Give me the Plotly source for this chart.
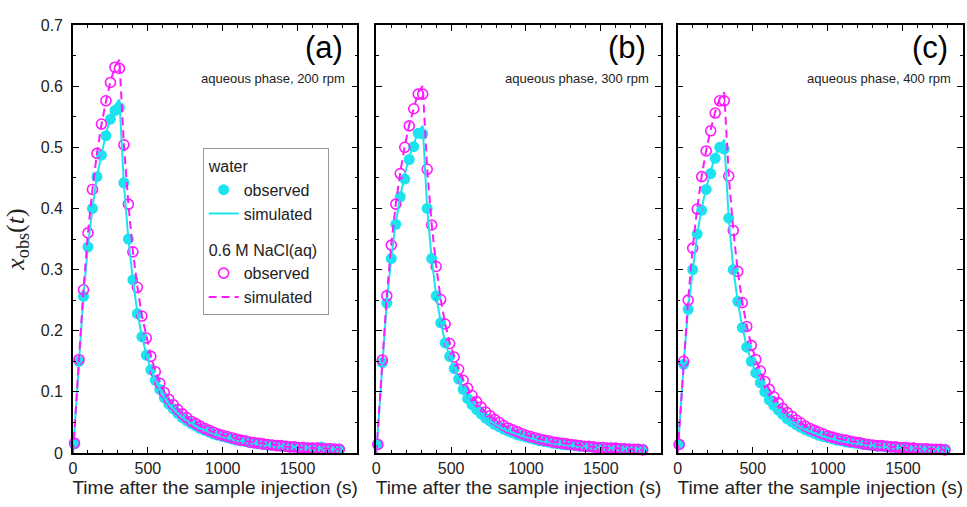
import plotly.graph_objects as go

# ---------------- data ----------------
t_obs = [10, 40, 70, 100, 130, 160, 190, 220, 250, 280, 310, 340, 370, 400, 430, 460, 490, 520, 550, 580,
         610, 640, 670, 700, 730, 760, 790, 820, 850, 880, 910, 940, 970, 1000, 1030, 1060, 1090, 1120, 1150, 1180,
         1210, 1240, 1270, 1300, 1330, 1360, 1390, 1420, 1450, 1480, 1510, 1540, 1570, 1600, 1630, 1660, 1690, 1720, 1750, 1780]
t_sim = [0, 40, 70, 100, 130, 160, 190, 220, 250, 280, 310, 340, 370, 400, 430, 460, 490, 520, 550, 580,
         610, 640, 670, 700, 730, 760, 790, 820, 850, 880, 910, 940, 970, 1000, 1030, 1060, 1090, 1120, 1150, 1180,
         1210, 1240, 1270, 1300, 1330, 1360, 1390, 1420, 1450, 1480, 1510, 1540, 1570, 1600, 1630, 1660, 1690, 1720, 1750, 1780]

# panel (a): 200 rpm
water_obs_a_head = [0.015, 0.150, 0.256, 0.337, 0.400, 0.452, 0.487, 0.519, 0.546, 0.560, 0.565, 0.442, 0.350, 0.283,
                    0.228, 0.190, 0.160, 0.136, 0.119, 0.104, 0.090]
water_obs_a_tail = [0.080, 0.072, 0.065, 0.058, 0.053, 0.048, 0.044, 0.040, 0.037, 0.034, 0.031, 0.029, 0.027, 0.025,
                    0.023, 0.021, 0.020, 0.019, 0.017, 0.016, 0.015, 0.014, 0.013, 0.013, 0.012, 0.011, 0.011, 0.010,
                    0.010, 0.009, 0.009, 0.008, 0.008, 0.008, 0.010, 0.007, 0.007, 0.007, 0.006]
water_sim_a_head = [0.000, 0.150, 0.258, 0.338, 0.401, 0.452, 0.490, 0.522, 0.548, 0.568, 0.578, 0.440, 0.350, 0.284,
                    0.230, 0.191, 0.161, 0.137, 0.119, 0.104, 0.091]
water_sim_a_tail = [0.080, 0.072, 0.065, 0.058, 0.053, 0.048, 0.044, 0.040, 0.037, 0.034, 0.031, 0.029, 0.027, 0.025,
                    0.023, 0.021, 0.020, 0.019, 0.017, 0.016, 0.015, 0.014, 0.013, 0.013, 0.012, 0.011, 0.011, 0.010,
                    0.010, 0.009, 0.009, 0.008, 0.008, 0.008, 0.007, 0.007, 0.007, 0.007, 0.006]
nacl_obs_a_head = [0.016, 0.153, 0.267, 0.360, 0.431, 0.490, 0.538, 0.576, 0.606, 0.631, 0.629, 0.504, 0.407, 0.329,
                   0.271, 0.224, 0.188, 0.158, 0.133, 0.114, 0.099]
nacl_obs_a_tail = [0.088, 0.079, 0.071, 0.064, 0.058, 0.052, 0.048, 0.044, 0.040, 0.037, 0.034, 0.031, 0.029, 0.027,
                   0.025, 0.023, 0.021, 0.020, 0.018, 0.017, 0.016, 0.015, 0.014, 0.013, 0.012, 0.012, 0.011, 0.010,
                   0.010, 0.009, 0.009, 0.008, 0.008, 0.008, 0.007, 0.007, 0.007, 0.006, 0.006]
nacl_sim_a_head = [0.000, 0.153, 0.268, 0.360, 0.432, 0.490, 0.537, 0.575, 0.607, 0.632, 0.643, 0.505, 0.408, 0.330,
                   0.272, 0.225, 0.189, 0.159, 0.134, 0.115, 0.100]
nacl_sim_a_tail = nacl_obs_a_tail

# panel (b): 300 rpm
water_obs_b_head = [0.014, 0.148, 0.245, 0.318, 0.374, 0.419, 0.448, 0.480, 0.501, 0.523, 0.522, 0.400, 0.318, 0.257,
                    0.213, 0.180, 0.158, 0.138, 0.121, 0.104, 0.089]
water_obs_b_tail = [0.079, 0.071, 0.064, 0.057, 0.052, 0.047, 0.043, 0.039, 0.036, 0.033, 0.030, 0.028, 0.026, 0.024,
                    0.022, 0.020, 0.019, 0.018, 0.016, 0.015, 0.014, 0.013, 0.013, 0.012, 0.011, 0.011, 0.010, 0.010,
                    0.009, 0.009, 0.008, 0.008, 0.008, 0.007, 0.007, 0.007, 0.006, 0.006, 0.006]
water_sim_b_head = [0.000, 0.150, 0.247, 0.320, 0.376, 0.420, 0.455, 0.484, 0.507, 0.526, 0.535, 0.400, 0.318, 0.258,
                    0.214, 0.181, 0.157, 0.137, 0.120, 0.104, 0.090]
water_sim_b_tail = water_obs_b_tail
nacl_obs_b_head = [0.014, 0.152, 0.257, 0.340, 0.407, 0.457, 0.500, 0.535, 0.563, 0.587, 0.587, 0.464, 0.373, 0.305,
                   0.251, 0.211, 0.179, 0.157, 0.137, 0.119, 0.106]
nacl_obs_b_tail = [0.094, 0.084, 0.075, 0.067, 0.061, 0.055, 0.050, 0.045, 0.041, 0.038, 0.035, 0.032, 0.029, 0.027,
                   0.025, 0.023, 0.021, 0.020, 0.018, 0.017, 0.016, 0.015, 0.014, 0.013, 0.012, 0.011, 0.011, 0.010,
                   0.009, 0.009, 0.008, 0.008, 0.008, 0.007, 0.007, 0.006, 0.006, 0.006, 0.005]
nacl_sim_b_head = [0.000, 0.153, 0.258, 0.341, 0.407, 0.459, 0.502, 0.537, 0.566, 0.590, 0.600, 0.465, 0.374, 0.306,
                   0.252, 0.212, 0.180, 0.157, 0.137, 0.120, 0.106]
nacl_sim_b_tail = nacl_obs_b_tail

# panel (c): 400 rpm
water_obs_c_head = [0.014, 0.145, 0.235, 0.300, 0.358, 0.397, 0.431, 0.457, 0.482, 0.500, 0.497, 0.384, 0.300, 0.248,
                    0.205, 0.173, 0.150, 0.131, 0.115, 0.100, 0.087]
water_obs_c_tail = [0.078, 0.070, 0.063, 0.056, 0.051, 0.046, 0.042, 0.038, 0.035, 0.032, 0.029, 0.027, 0.025, 0.023,
                    0.021, 0.020, 0.018, 0.017, 0.016, 0.015, 0.014, 0.013, 0.012, 0.011, 0.011, 0.010, 0.010, 0.009,
                    0.009, 0.008, 0.008, 0.008, 0.007, 0.007, 0.007, 0.006, 0.006, 0.006, 0.006]
water_sim_c_head = [0.000, 0.146, 0.237, 0.302, 0.358, 0.400, 0.434, 0.461, 0.485, 0.503, 0.512, 0.384, 0.301, 0.248,
                    0.206, 0.174, 0.150, 0.131, 0.115, 0.100, 0.088]
water_sim_c_tail = water_obs_c_tail
nacl_obs_c_head = [0.014, 0.150, 0.250, 0.335, 0.399, 0.452, 0.494, 0.527, 0.556, 0.576, 0.576, 0.453, 0.364, 0.297,
                   0.246, 0.207, 0.176, 0.153, 0.134, 0.117, 0.104]
nacl_obs_c_tail = [0.092, 0.082, 0.073, 0.066, 0.060, 0.054, 0.049, 0.044, 0.040, 0.037, 0.034, 0.031, 0.028, 0.026,
                   0.024, 0.022, 0.021, 0.019, 0.018, 0.017, 0.015, 0.014, 0.013, 0.012, 0.012, 0.011, 0.010, 0.010,
                   0.009, 0.009, 0.008, 0.008, 0.007, 0.007, 0.007, 0.006, 0.006, 0.006, 0.005]
nacl_sim_c_head = [0.000, 0.151, 0.251, 0.336, 0.400, 0.453, 0.495, 0.529, 0.558, 0.580, 0.590, 0.454, 0.365, 0.298,
                   0.247, 0.208, 0.177, 0.153, 0.134, 0.117, 0.104]
nacl_sim_c_tail = nacl_obs_c_tail

panel_labels = ["(a)", "(b)", "(c)"]
condition_labels = ["aqueous phase, 200 rpm", "aqueous phase, 300 rpm", "aqueous phase, 400 rpm"]
x_tick_vals = [0, 500, 1000, 1500]
y_tick_vals = [0, 0.1, 0.2, 0.3, 0.4, 0.5, 0.6, 0.7]

panels = [
    (water_obs_a_head + water_obs_a_tail, water_sim_a_head + water_sim_a_tail,
     nacl_obs_a_head + nacl_obs_a_tail, nacl_sim_a_head + nacl_sim_a_tail),
    (water_obs_b_head + water_obs_b_tail, water_sim_b_head + water_sim_b_tail,
     nacl_obs_b_head + nacl_obs_b_tail, nacl_sim_b_head + nacl_sim_b_tail),
    (water_obs_c_head + water_obs_c_tail, water_sim_c_head + water_sim_c_tail,
     nacl_obs_c_head + nacl_obs_c_tail, nacl_sim_c_head + nacl_sim_c_tail),
]

# ---------------- style ----------------
CYAN = "#1DE3EE"
MAGENTA = "#FF19FF"
FONT = "Arial, Liberation Sans, sans-serif"
NARROW = "Liberation Sans Narrow, Arial Narrow, Arial, sans-serif"
domains = [[0.0, 0.3195], [0.3408, 0.6603], [0.6794, 1.0]]

fig = go.Figure()
for i, (w_obs, w_sim, n_obs, n_sim) in enumerate(panels):
    xa = "x" if i == 0 else f"x{i+1}"
    ya = "y" if i == 0 else f"y{i+1}"
    show = i == 0
    fig.add_trace(go.Scatter(x=t_obs, y=w_obs, mode="markers", name="observed",
                             legendgroup="water", legendgrouptitle_text="water",
                             marker=dict(symbol="circle", size=11, color=CYAN, line=dict(width=0)),
                             cliponaxis=False, showlegend=show, xaxis=xa, yaxis=ya))
    fig.add_trace(go.Scatter(x=t_obs, y=n_obs, mode="markers", name="observed",
                             legendgroup="nacl", legendgrouptitle_text="0.6 M NaCl(aq)",
                             marker=dict(symbol="circle-open", size=10, color=MAGENTA, line=dict(width=1.6)),
                             cliponaxis=False, showlegend=show, xaxis=xa, yaxis=ya))
    fig.add_trace(go.Scatter(x=t_sim, y=w_sim, mode="lines", name="simulated",
                             legendgroup="water", line=dict(color=CYAN, width=2),
                             showlegend=show, xaxis=xa, yaxis=ya))
    fig.add_trace(go.Scatter(x=t_sim, y=n_sim, mode="lines", name="simulated",
                             legendgroup="nacl", line=dict(color=MAGENTA, width=2, dash="8px,5px"),
                             showlegend=show, xaxis=xa, yaxis=ya))

axis_common = dict(showline=True, linecolor="black", linewidth=1.6, mirror="allticks",
                   ticks="inside", ticklen=6, tickwidth=1.4, tickcolor="black",
                   showgrid=False, zeroline=False,
                   tickfont=dict(family=FONT, size=16, color="#222"))

layout = dict(width=967, height=507, paper_bgcolor="white", plot_bgcolor="white",
              margin=dict(l=73, r=2, t=25, b=54), font=dict(family=FONT, color="#222"))
for i in range(3):
    xk = "xaxis" if i == 0 else f"xaxis{i+1}"
    yk = "yaxis" if i == 0 else f"yaxis{i+1}"
    layout[xk] = dict(axis_common, domain=domains[i], range=[0, 1900], tickvals=x_tick_vals,
                      minor=dict(dtick=100, tick0=0, ticks="inside", ticklen=3, tickwidth=1.2, tickcolor="black"),
                      anchor="y" if i == 0 else f"y{i+1}",
                      title=dict(text="Time after the sample injection (s)",
                                 font=dict(family=FONT, size=19, color="#222"), standoff=5))
    layout[yk] = dict(axis_common, domain=[0, 1], range=[0, 0.7], tickvals=y_tick_vals,
                      showticklabels=(i == 0),
                      minor=dict(dtick=0.05, tick0=0, ticks="inside", ticklen=3, tickwidth=1.2, tickcolor="black"),
                      anchor="x" if i == 0 else f"x{i+1}")
layout["yaxis"]["ticklabelstandoff"] = 5
layout["yaxis"]["title"] = dict(text="<i>x</i><sub>obs</sub>(<i>t</i>)",
                                font=dict(family="Liberation Serif, Times New Roman, serif", size=26, color="#222"),
                                standoff=9)
fig.update_layout(**layout)

for i in range(3):
    xr = "x domain" if i == 0 else f"x{i+1} domain"
    yr = "y" if i == 0 else f"y{i+1}"
    fig.add_annotation(x=0.955, y=0.664, xref=xr, yref=yr, text=panel_labels[i], showarrow=False,
                       xanchor="right", yanchor="middle", font=dict(family=FONT, size=31, color="black"))
    fig.add_annotation(x=0.965, y=0.612, xref=xr, yref=yr, text=condition_labels[i], showarrow=False,
                       xanchor="right", yanchor="middle", font=dict(family=NARROW, size=13, color="#222"))

fig.update_layout(legend=dict(x=0.1457, y=0.7126, xanchor="left", yanchor="top",
                              bordercolor="#999", borderwidth=1, bgcolor="white",
                              font=dict(family=FONT, size=16, color="#222"),
                              grouptitlefont=dict(family=FONT, size=16, color="#222"),
                              traceorder="grouped", tracegroupgap=12, itemwidth=30))

fig.write_html("out.html", config={"displayModeBar": False},
               post_script="document.body.style.margin='0';document.body.style.padding='0';")
